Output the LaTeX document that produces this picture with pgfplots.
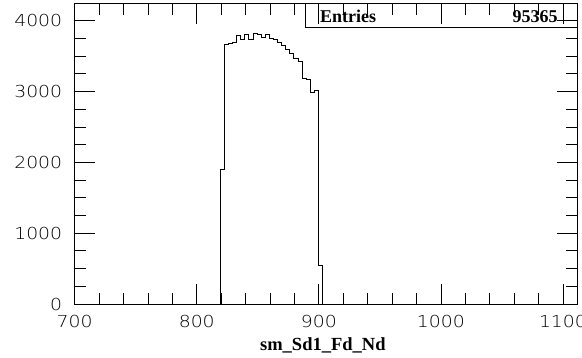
\documentclass[border=0pt]{standalone}
\usepackage{fontspec}
\usepackage{pgfplots}
\pgfplotsset{compat=1.18}
\setmainfont{Liberation Serif}
\newfontfamily\rootfont[FakeStretch=1.14]{DejaVu Sans ExtraLight}
\pgfplotstableread{
x y
819.30 0
819.30 1900
822.65 3660
826.00 3680
829.35 3700
832.70 3790
836.05 3730
839.40 3800
842.75 3740
846.10 3820
849.45 3800
852.80 3760
856.15 3800
859.50 3750
862.85 3730
866.20 3700
869.55 3650
872.90 3600
876.25 3540
879.60 3470
882.95 3420
886.30 3190
889.65 3170
893.00 2990
896.35 3010
899.70 550
903.05 550
903.05 0
}\histdata
\begin{document}
\begin{tikzpicture}
\begin{axis}[
  at={(74.7bp,54bp)}, anchor=south west,
  scale only axis, width=502.3bp, height=300bp,
  xmin=700, xmax=1111.5, ymin=0, ymax=4237,
  xtick={700,800,900,1000,1100}, ytick={0,1000,2000,3000,4000},
  minor x tick num=4, minor y tick num=3,
  tick align=inside,
  major tick length=20bp, minor tick length=11bp,
  axis line style={line width=1bp},
  tick style={black, line width=0.8bp},
  axis on top, clip=false,
  scaled ticks=false,
  /pgf/number format/assume math mode=true,
  /pgf/number format/1000 sep={},
  ticklabel style={font=\rootfont\fontsize{16.5bp}{18bp}\selectfont},
  xticklabel style={yshift=-8bp},
  yticklabel style={xshift=-9bp},
  xlabel={sm\_Sd1\_Fd\_Nd},
  xlabel style={font=\bfseries\fontsize{18.5bp}{20bp}\selectfont,
    at={(axis description cs:0.5,0)}, anchor=base, yshift=-46bp, xshift=-3bp},
]
\addplot[const plot, black, line width=1bp] table[x=x, y=y] {\histdata};
\draw[line width=1bp, fill=white] (axis description cs:0.4585,0.92) rectangle (axis description cs:1,1.0033);
\node[anchor=base west, inner sep=0, font=\bfseries\fontsize{18bp}{20bp}\selectfont] at (axis description cs:0.488,0.9383) {Entries};
\node[anchor=base east, inner sep=0, font=\bfseries\fontsize{18bp}{20bp}\selectfont] at (axis description cs:0.962,0.9383) {95365};
\end{axis}
\pgfresetboundingbox
\path (0,0) rectangle (582bp,358bp);
\end{tikzpicture}
\end{document}
